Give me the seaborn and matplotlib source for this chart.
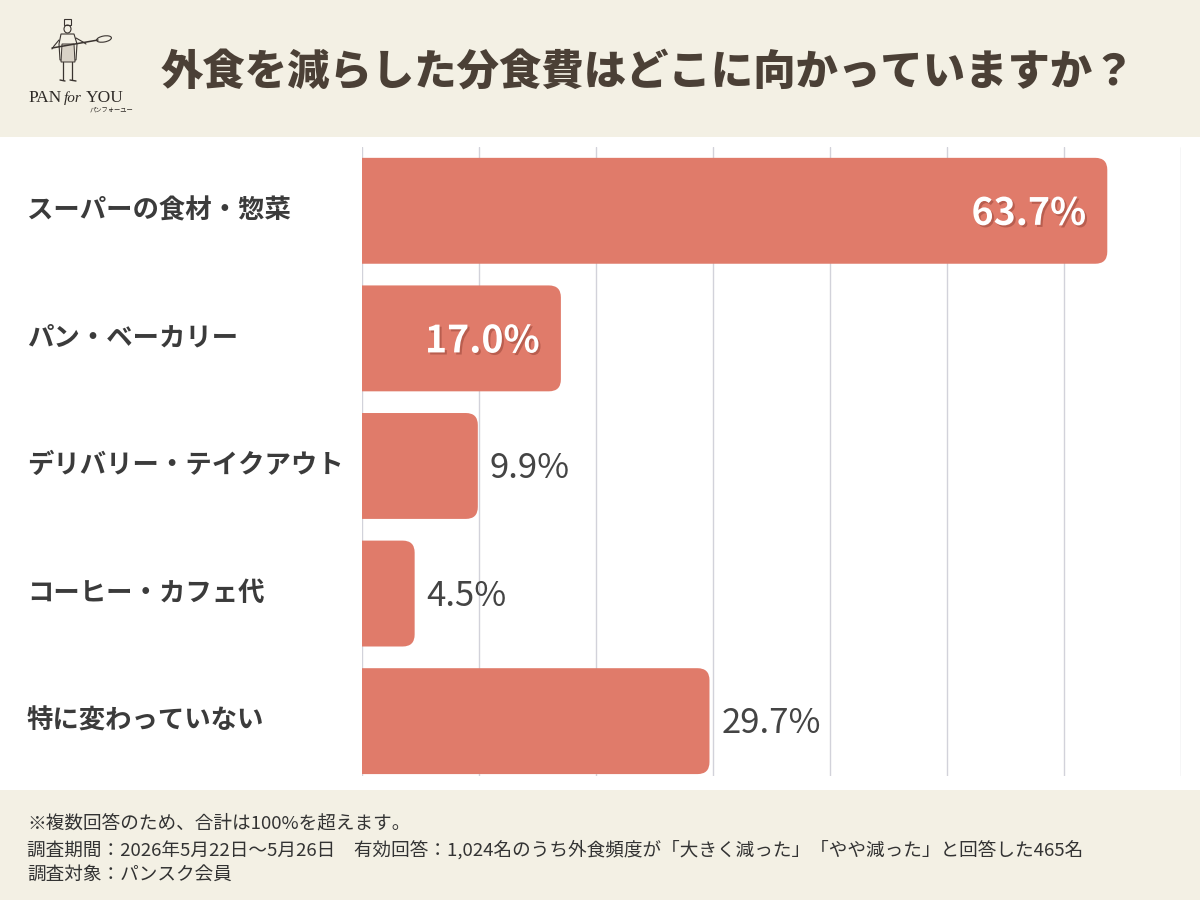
import matplotlib
matplotlib.use("Agg")
import matplotlib.pyplot as plt
import matplotlib.patheffects as pe
from matplotlib.patches import FancyBboxPatch, Rectangle, Ellipse, Polygon
import seaborn as sns
import pandas as pd

# ---- data ----
categories = ["スーパーの食材・惣菜", "パン・ベーカリー", "デリバリー・テイクアウト", "コーヒー・カフェ代", "特に変わっていない"]
values = [63.7, 17.0, 9.9, 4.5, 29.7]
value_labels = ["63.7%", "17.0%", "9.9%", "4.5%", "29.7%"]
title = "外食を減らした分食費はどこに向かっていますか？"
notes = [
    "※複数回答のため、合計は100%を超えます。",
    "調査期間：2026年5月22日～5月26日　有効回答：1,024名のうち外食頻度が「大きく減った」「やや減った」と回答した465名",
    "調査対象：パンスク会員",
]

sns.set_theme(style="white")
plt.rcParams["font.family"] = ["Noto Sans CJK JP", "DejaVu Sans"]

BAR = "#E07B6A"
DARK = "#3b3b3b"
BEIGE = "#F3F0E4"
# label placement style: inside (white) for the first two bars
label_inside = [True, True, False, False, False]

fig = plt.figure(figsize=(12, 9), dpi=100, facecolor="white")

# header / footer bands
fig.patches.append(Rectangle((0, 1 - 137 / 900), 1, 137 / 900, transform=fig.transFigure,
                             facecolor=BEIGE, edgecolor="none", zorder=-1))
fig.patches.append(Rectangle((0, 0), 1, 110 / 900, transform=fig.transFigure,
                             facecolor=BEIGE, edgecolor="none", zorder=-1))

ax = fig.add_axes([362 / 1200, 1 - 776 / 900, 819 / 1200, 629 / 900])
df = pd.DataFrame({"cat": categories, "val": values})
sns.barplot(data=df, x="val", y="cat", orient="h", color=BAR, width=0.83,
            saturation=1, ax=ax, zorder=3)

ax.set_xlim(0, 70)
ax.set_ylim(4.43, -0.5)
ax.set_xticks(range(0, 71, 10))
ax.xaxis.grid(True, color="#d2d2da", lw=1.0, zorder=0)
ax.set_axisbelow(True)
for s in ax.spines.values():
    s.set_visible(False)
ax.tick_params(left=False, bottom=False, labelbottom=False, labelleft=False)
ax.set_xlabel("")
ax.set_ylabel("")
ax.set_facecolor("white")

# rounded right corners
fig.canvas.draw()
p0 = ax.transData.transform((0, 0))
p1 = ax.transData.transform((1, 1))
px_x = abs(p1[0] - p0[0])
px_y = abs(p1[1] - p0[1])
aspect = px_x / px_y
r = 12 / px_x
bars = list(ax.patches)
for p in bars:
    x0, y0, w, h = p.get_x(), p.get_y(), p.get_width(), p.get_height()
    p.remove()
    fb = FancyBboxPatch((x0 - 5, y0), w + 5, h,
                        boxstyle=f"round,pad=0,rounding_size={r}",
                        mutation_aspect=aspect, facecolor=BAR, edgecolor="none", zorder=3)
    ax.add_patch(fb)

# value labels
for i, (v, lab) in enumerate(zip(values, value_labels)):
    if label_inside[i]:
        ax.text(v - 1.8, i + 0.02, lab, ha="right", va="center", fontsize=27, color="white",
                fontweight="bold", zorder=5,
                path_effects=[pe.SimplePatchShadow(offset=(1.5, -1.5), shadow_rgbFace="#8a3c30", alpha=0.45),
                              pe.Normal()])
    else:
        ax.text(v + 1.0, i + 0.02, lab, ha="left", va="center", fontsize=25, color="#444444", zorder=5)

# category labels
for i, c in enumerate(categories):
    y = ax.transData.transform((0, i))[1]
    yf = fig.transFigure.inverted().transform((0, y))[1]
    fig.text(27 / 1200, yf, c, ha="left", va="center", fontsize=19, fontweight="bold", color=DARK)

# title
fig.text(648 / 1200, 1 - 72 / 900, title, ha="center", va="center", fontsize=30.5,
         fontweight="heavy", color="#4B4036")

# logo: simple baker sketch (decorative)
lax = fig.add_axes([50 / 1200, 1 - 84 / 900, 62 / 1200, 66 / 900])
lax.set_xlim(0, 62)
lax.set_ylim(66, 0)
lax.axis("off")
ink = "#3a3430"
lax.add_patch(Rectangle((14, 1), 7, 6, facecolor="none", edgecolor=ink, lw=0.8))
lax.add_patch(Ellipse((17.5, 11), 7, 8, facecolor="none", edgecolor=ink, lw=0.8))
lax.add_patch(Polygon([(11, 16), (24, 16), (27, 26), (26, 42), (10, 42), (9, 26)],
                      closed=True, facecolor="none", edgecolor=ink, lw=0.8))
lax.add_patch(Polygon([(12, 26), (24, 26), (25, 44), (11, 44)], closed=True,
                      facecolor="#d8d2c6", edgecolor=ink, lw=0.7))
lax.plot([13, 13], [44, 62], color=ink, lw=0.9)
lax.plot([22, 22], [44, 62], color=ink, lw=0.9)
lax.plot([10, 15], [62, 63], color=ink, lw=1.0)
lax.plot([20, 26], [62, 63], color=ink, lw=1.0)
lax.plot([2, 48], [30, 22], color=ink, lw=1.1)
lax.add_patch(Ellipse((54, 21), 15, 6, angle=-10, facecolor="none", edgecolor=ink, lw=0.8))
lax.plot([9, 4, 2], [22, 28, 31], color=ink, lw=0.8)
lax.plot([26, 33, 36], [20, 24, 26], color=ink, lw=0.8)

# logo text
serif = ["Liberation Serif", "DejaVu Serif"]
fig.text(28 / 1200, 1 - 98 / 900, "PAN", ha="left", va="center", fontsize=12.5,
         family=serif, color="#2e2a26")
fig.text(64 / 1200, 1 - 98 / 900, "for", ha="left", va="center", fontsize=11, style="italic",
         family=serif, color="#2e2a26")
fig.text(86 / 1200, 1 - 98 / 900, "YOU", ha="left", va="center", fontsize=12.5,
         family=serif, color="#2e2a26")
fig.text(90 / 1200, 1 - 110 / 900, "パンフォーユー", ha="left", va="center", fontsize=4.5, color="#2e2a26")

# footer notes
for t, yy in zip(notes, [823, 850, 875]):
    fig.text(27 / 1200, 1 - yy / 900, t, ha="left", va="center", fontsize=13.4, color="#333333")

fig.savefig("out.png", dpi=100, facecolor="white")
